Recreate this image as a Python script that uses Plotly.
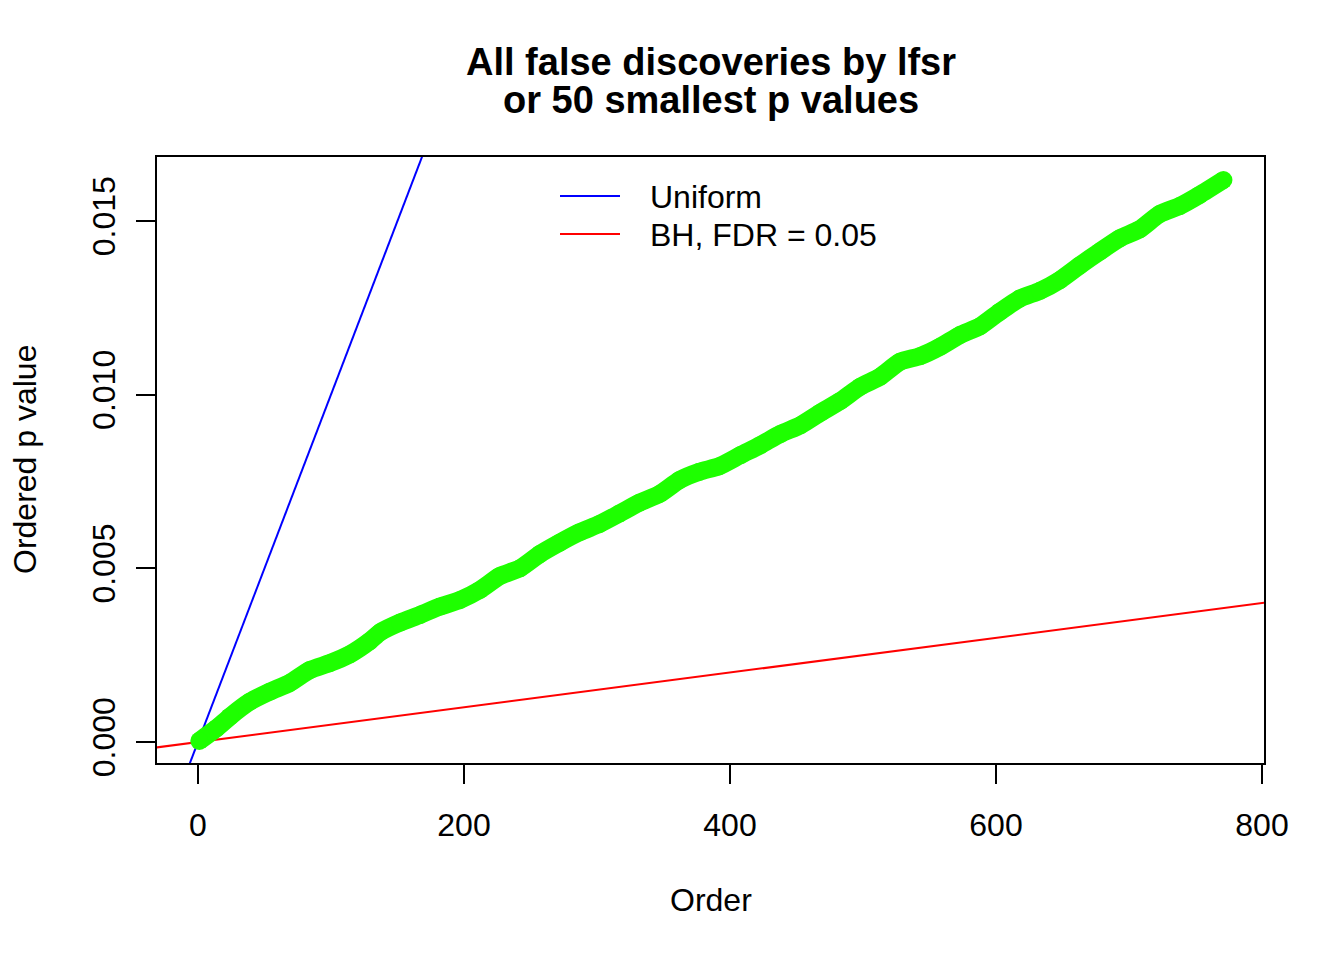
import plotly.graph_objects as go

# ---- data ----
order = [1, 14, 24, 39, 54, 69, 84, 99, 114, 129, 137, 152, 167, 182, 197, 212, 227,
         242, 257, 272, 287, 302, 317, 332, 347, 362, 377, 392, 408, 423, 438, 453,
         468, 483, 498, 513, 528, 543, 558, 573, 588, 603, 618, 633, 648, 663, 678,
         693, 708, 723, 738, 753, 771]
pvals = [0.00003, 0.00040, 0.00073, 0.00116, 0.00145, 0.00170, 0.00207, 0.00227,
         0.00252, 0.00290, 0.00316, 0.00344, 0.00366, 0.00390, 0.00409, 0.00438,
         0.00478, 0.00500, 0.00541, 0.00574, 0.00604, 0.00628, 0.00658, 0.00689,
         0.00714, 0.00754, 0.00778, 0.00794, 0.00826, 0.00855, 0.00887, 0.00912,
         0.00948, 0.00982, 0.01023, 0.01052, 0.01095, 0.01111, 0.01138, 0.01172,
         0.01197, 0.01239, 0.01277, 0.01299, 0.01330, 0.01372, 0.01412, 0.01450,
         0.01476, 0.01520, 0.01543, 0.01575, 0.01618]
n_tests = 10000
fdr = 0.05
x_ticks = [0, 200, 400, 600, 800]
y_ticks = [0.000, 0.005, 0.010, 0.015]
title_lines = ["All false discoveries by lfsr", "or 50 smallest p values"]
legend_labels = ["Uniform", "BH, FDR = 0.05"]

FONT = "Liberation Sans, Arial, Helvetica, sans-serif"
GREEN = "#1eff00"
BLUE = "#0000ff"
RED = "#ff0000"

x_range = [-30.8, 801.5]
y_range = [-0.000604, 0.016842]

line_x = [-100, 1000]
fig = go.Figure()
fig.add_trace(go.Scatter(x=line_x, y=[v / n_tests for v in line_x], mode="lines",
                         line=dict(color=BLUE, width=2), showlegend=False))
fig.add_trace(go.Scatter(x=line_x, y=[v * fdr / n_tests for v in line_x], mode="lines",
                         line=dict(color=RED, width=2), showlegend=False))
fig.add_trace(go.Scatter(x=order, y=pvals, mode="lines+markers",
                         line=dict(color=GREEN, width=18, shape="spline", smoothing=0.6),
                         marker=dict(color=GREEN, size=18, line=dict(width=0)),
                         showlegend=False, cliponaxis=False))

def px_x(X):
    return (X - 157) / 1107

def px_y(Y):
    return (763 - Y) / 606

annotations = [
    dict(text="<b>%s</b>" % title_lines[0], x=0.5, y=px_y(62), xref="paper", yref="paper",
         xanchor="center", yanchor="middle", showarrow=False, font=dict(size=38, color="black", family=FONT)),
    dict(text="<b>%s</b>" % title_lines[1], x=0.5, y=px_y(100), xref="paper", yref="paper",
         xanchor="center", yanchor="middle", showarrow=False, font=dict(size=38, color="black", family=FONT)),
    dict(text="Order", x=0.5, y=px_y(900), xref="paper", yref="paper",
         xanchor="center", yanchor="middle", showarrow=False, font=dict(size=32, color="black", family=FONT)),
    dict(text="Ordered p value", x=px_x(25), y=0.5, xref="paper", yref="paper", textangle=-90,
         xanchor="center", yanchor="middle", showarrow=False, font=dict(size=32, color="black", family=FONT)),
    dict(text=legend_labels[0], x=px_x(648), y=px_y(197), xref="paper", yref="paper",
         xanchor="left", yanchor="middle", showarrow=False, font=dict(size=32, color="black", family=FONT)),
    dict(text=legend_labels[1], x=px_x(648), y=px_y(235), xref="paper", yref="paper",
         xanchor="left", yanchor="middle", showarrow=False, font=dict(size=32, color="black", family=FONT)),
]
shapes = [
    dict(type="line", xref="paper", yref="paper", x0=px_x(560), x1=px_x(620), y0=px_y(196), y1=px_y(196),
         line=dict(color=BLUE, width=2)),
    dict(type="line", xref="paper", yref="paper", x0=px_x(560), x1=px_x(620), y0=px_y(234), y1=px_y(234),
         line=dict(color=RED, width=2)),
]

# page body has an 8px offset; compensate so the plot area lands at 157..1264 x 157..763
fig.update_layout(
    width=1328, height=944,
    margin=dict(l=149, r=72, t=149, b=189, pad=0),
    paper_bgcolor="white", plot_bgcolor="white",
    font=dict(family=FONT, size=32, color="black"),
    annotations=annotations, shapes=shapes,
    xaxis=dict(range=x_range, tickvals=x_ticks, ticktext=[str(v) for v in x_ticks],
               showgrid=False, zeroline=False, showline=True, mirror=True,
               linecolor="black", linewidth=2, ticks="outside", ticklen=19, tickwidth=2,
               tickcolor="black", tickfont=dict(size=32, family=FONT), ticklabelstandoff=14),
    yaxis=dict(range=y_range, tickvals=y_ticks, ticktext=["%.3f" % v for v in y_ticks],
               showgrid=False, zeroline=False, showline=True, mirror=True,
               linecolor="black", linewidth=2, ticks="outside", ticklen=19, tickwidth=2,
               tickcolor="black", tickfont=dict(size=32, family=FONT), tickangle=-90,
               ticklabelstandoff=8),
)

fig.write_html("out.html")
